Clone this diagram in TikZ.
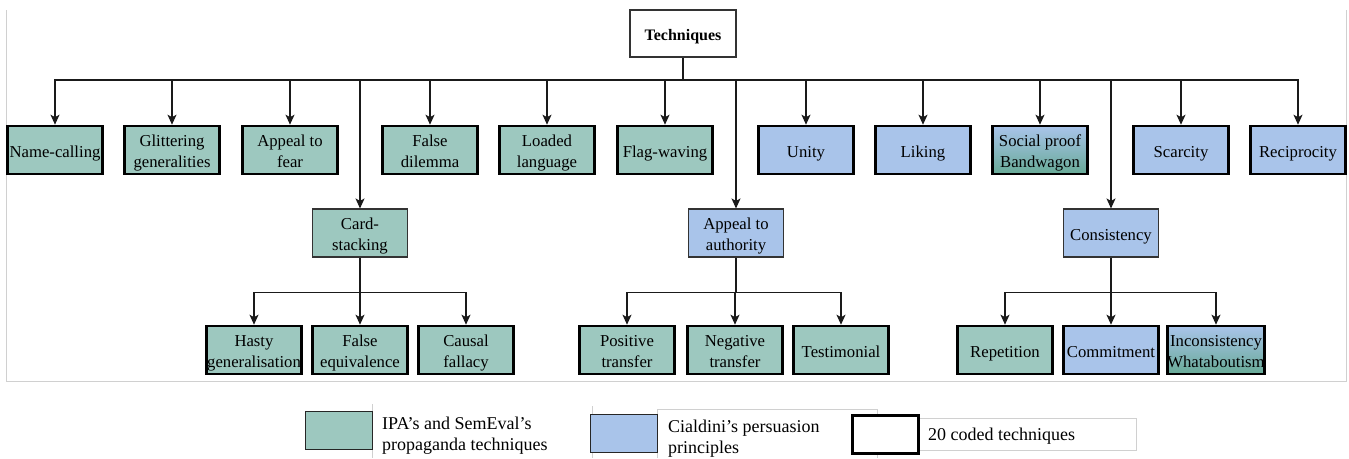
\documentclass[tikz,border=0pt]{standalone}
\usepackage{fontspec}
\setmainfont{Liberation Serif}
\usetikzlibrary{arrows.meta,calc}
\definecolor{ipa}{HTML}{9DC8BF}
\definecolor{cia}{HTML}{A9C4EA}
\definecolor{ipadark}{HTML}{68AA97}
\definecolor{framegray}{HTML}{D0D0D0}
\definecolor{edge}{HTML}{1A1A1A}
\begin{document}
\begin{tikzpicture}[x=1pt,y=-1pt,
  box/.style={minimum width=95pt, minimum height=48pt, inner sep=0pt, align=center,
    font=\fontsize{16.7}{21}\selectfont,
    execute at begin node={\rule{0pt}{18.5pt}},
    execute at end node={\rule[-4.5pt]{0pt}{0pt}}},
  two/.style={execute at begin node={\rule{0pt}{40pt}},
    execute at end node={\rule[-4.5pt]{0pt}{0pt}}},
  coded/.style={box, draw=black, line width=2.6pt},
  plain/.style={box, draw=black!80, line width=1.1pt},
  ipaf/.style={fill=ipa},
  ciaf/.style={fill=cia},
  mixf/.style={top color=cia, bottom color=ipadark},
  link/.style={line width=1.2pt, draw=edge},
  conn/.style={link, -{Stealth[length=10pt,width=9pt,inset=2.5pt]}},
  legtext/.style={inner sep=0pt, align=left, font=\fontsize{18}{21}\selectfont},
  legbox/.style={minimum width=67pt, minimum height=38pt, inner sep=0pt}
]
\useasboundingbox (0,0) rectangle (1349,458);
% outer frame
\draw[framegray, line width=1pt] (6,10) -- (6,381) -- (1346,381) -- (1346,10);

% root
\node[plain, minimum width=106pt, minimum height=47pt, fill=white,
      font=\bfseries\fontsize{16}{20}\selectfont] (T) at (683,33.5) {Techniques};

% row 1
\node[coded, ipaf] (nc) at (55,150)        {Name-calling};
\node[coded, ipaf, two] (gg) at (172,150)  {Glittering\\generalities};
\node[coded, ipaf, two] (af) at (290,150)  {Appeal to\\fear};
\node[coded, ipaf, two] (fd) at (430,150)  {False\\dilemma};
\node[coded, ipaf, two] (ll) at (547,150)  {Loaded\\language};
\node[coded, ipaf] (fw) at (665,150)       {Flag-waving};
\node[coded, ciaf] (un) at (806,150)       {Unity};
\node[coded, ciaf] (lk) at (923,150)       {Liking};
\node[coded, mixf, two] (sp) at (1040,150) {Social proof\\Bandwagon};
\node[coded, ciaf] (sc) at (1181,150)      {Scarcity};
\node[coded, ciaf] (rc) at (1298,150)      {Reciprocity};

% row 2
\node[plain, ipaf, two] (cs) at (360,233)  {Card-\\stacking};
\node[plain, ciaf, two] (aa) at (736,233)  {Appeal to\\authority};
\node[plain, ciaf] (co) at (1111,233)      {Consistency};

% row 3
\node[coded, ipaf, two] (hg) at (254,350)  {Hasty\\generalisation};
\node[coded, ipaf, two] (fe) at (360,350)  {False\\equivalence};
\node[coded, ipaf, two] (cf) at (466,350)  {Causal\\fallacy};
\node[coded, ipaf, two] (pt) at (627,350)  {Positive\\transfer};
\node[coded, ipaf, two] (nt) at (735,350)  {Negative\\transfer};
\node[coded, ipaf] (ts) at (841,350)       {Testimonial};
\node[coded, ipaf] (rp) at (1005,350)      {Repetition};
\node[coded, ciaf] (cm) at (1111,350)      {Commitment};
\node[coded, mixf, two] (ic) at (1216,350) {Inconsistency\\Whataboutism};

% connectors from root
\coordinate (bus) at (683,80);
\draw[link] (T.south) -- (bus);
\foreach \n in {nc,gg,af,fd,ll,fw,cs,aa,un,lk,sp,co,sc,rc}
  \draw[conn] (bus) -| (\n.north);

% sub-trees
\coordinate (csb) at ($(cs.south)+(0,35)$);
\draw[link] (cs.south) -- (csb);
\foreach \n in {hg,fe,cf} \draw[conn] (csb) -| (\n.north);

\coordinate (aab) at ($(aa.south)+(0,35)$);
\draw[link] (aa.south) -- (aab);
\foreach \n in {pt,nt,ts} \draw[conn] (aab) -| (\n.north);

\coordinate (cob) at ($(co.south)+(0,35)$);
\draw[link] (co.south) -- (cob);
\foreach \n in {rp,cm,ic} \draw[conn] (cob) -| (\n.north);

% legend frames
\draw[framegray, line width=0.8pt] (372,404) -- (372,458);
\draw[framegray, line width=0.8pt] (592,406) -- (592,458);
\draw[framegray, line width=0.8pt] (657,458) -- (657,409) -- (877,409) -- (877,458);
\draw[framegray, line width=0.8pt] (918,418) rectangle (1136,450);

% legend
\node[legbox, draw=black!85, line width=1pt, fill=ipa] (l1) at (338.5,430) {};
\node[legtext, anchor=west] (t1) at (382,435.3) {IPA’s and SemEval’s\\propaganda techniques};
\node[legbox, draw=black!85, line width=1pt, fill=cia] (l2) at (623.5,433) {};
\node[legtext, anchor=west] (t2) at (668,438.3) {Cialdini’s persuasion\\principles};
\node[legbox, minimum width=66pt, draw=black, line width=3pt, fill=white] (l3) at (885,434) {};
\node[legtext, anchor=base west] (t3) at (928,440) {20 coded techniques};
\end{tikzpicture}
\end{document}
